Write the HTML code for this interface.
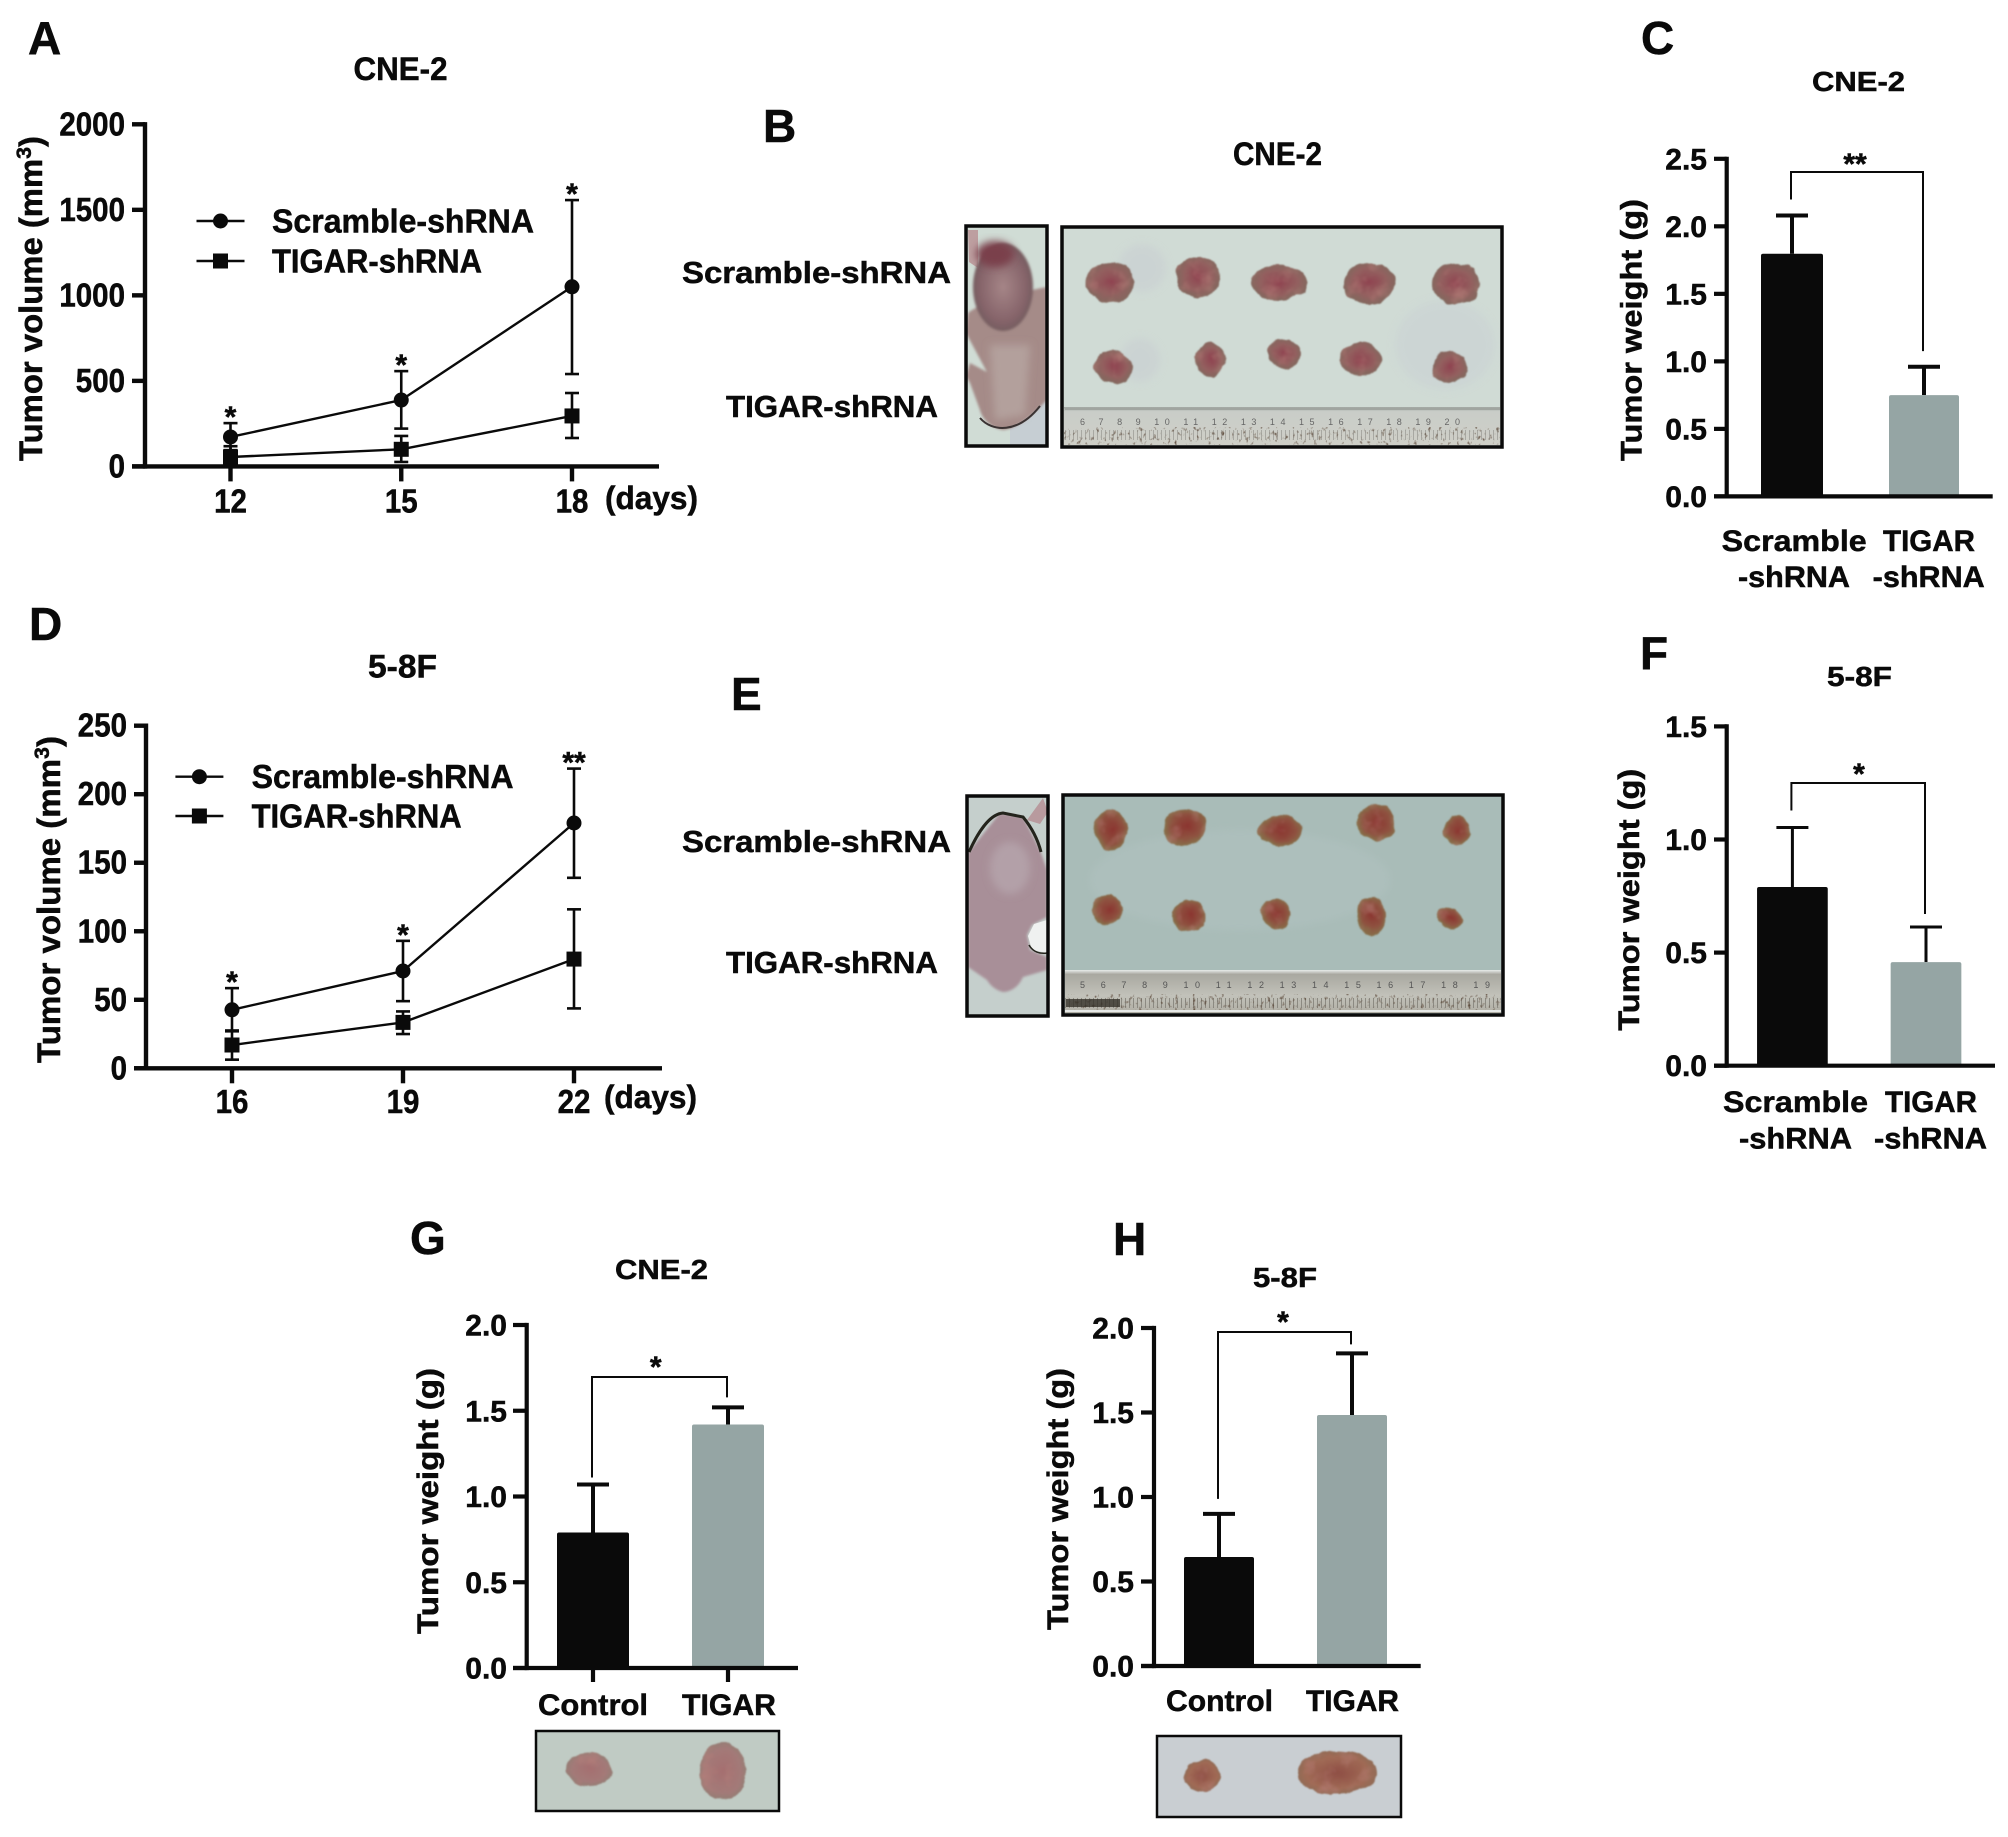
<!DOCTYPE html>
<html lang="en">
<head>
<meta charset="utf-8">
<title>Tumor xenograft figure</title>
<style>
html,body{margin:0;padding:0;background:#fff;}
svg{display:block;}
text{font-family:"Liberation Sans",Arial,sans-serif;font-weight:700;fill:#0a0a0a;stroke:#0a0a0a;stroke-width:.5px;}
</style>
</head>
<body>
<svg id="fig" xmlns="http://www.w3.org/2000/svg" width="2008" height="1837" viewBox="0 0 2008 1837">
<defs>
<radialGradient id="tb" cx="50%" cy="48%" r="55%"><stop offset="0%" stop-color="#8f4350"/><stop offset="60%" stop-color="#93605f"/><stop offset="100%" stop-color="#7f6a5e"/></radialGradient>
<radialGradient id="te" cx="52%" cy="48%" r="55%"><stop offset="0%" stop-color="#8b3530"/><stop offset="62%" stop-color="#8e5240"/><stop offset="100%" stop-color="#85764c"/></radialGradient>
<radialGradient id="tg" cx="50%" cy="50%" r="55%"><stop offset="0%" stop-color="#a56f70"/><stop offset="70%" stop-color="#a37a78"/><stop offset="100%" stop-color="#8f7f74"/></radialGradient>
<radialGradient id="th" cx="50%" cy="50%" r="55%"><stop offset="0%" stop-color="#8f4f45"/><stop offset="70%" stop-color="#a06a55"/><stop offset="100%" stop-color="#8a6c56"/></radialGradient>
<radialGradient id="lump" cx="50%" cy="50%" r="55%"><stop offset="0%" stop-color="#a58587"/><stop offset="70%" stop-color="#86646a"/><stop offset="100%" stop-color="#6e5a5c"/></radialGradient>
<linearGradient id="rb" x1="0" y1="0" x2="0" y2="1"><stop offset="0%" stop-color="#9fa5a0"/><stop offset="12%" stop-color="#c9cdc8"/><stop offset="100%" stop-color="#cfcfc7"/></linearGradient>
<linearGradient id="re" x1="0" y1="0" x2="0" y2="1"><stop offset="0%" stop-color="#e8ecea"/><stop offset="10%" stop-color="#a9a8a0"/><stop offset="60%" stop-color="#c2c2ba"/><stop offset="100%" stop-color="#b0aea4"/></linearGradient>
<filter id="soft" x="-20%" y="-20%" width="140%" height="140%"><feGaussianBlur stdDeviation="1.2"/></filter>
<filter id="softer" x="-30%" y="-30%" width="160%" height="160%"><feGaussianBlur stdDeviation="4"/></filter>
<filter id="blob" x="-30%" y="-30%" width="160%" height="160%" color-interpolation-filters="sRGB">
<feTurbulence type="fractalNoise" baseFrequency=".06" numOctaves="3" seed="4" result="n"/>
<feDisplacementMap in="SourceGraphic" in2="n" scale="7" xChannelSelector="R" yChannelSelector="G" result="d"/>
<feColorMatrix in="n" type="matrix" values="0 0 0 0 .72  0 0 0 0 .5  0 0 0 0 .48  1.4 0 0 0 -.7" result="m"/>
<feComposite in="m" in2="d" operator="in" result="mm"/>
<feMerge result="o"><feMergeNode in="d"/><feMergeNode in="mm"/></feMerge>
<feGaussianBlur in="o" stdDeviation=".8"/>
</filter>
<filter id="grime" x="0" y="0" width="100%" height="100%" color-interpolation-filters="sRGB">
<feTurbulence type="fractalNoise" baseFrequency=".28 .22" numOctaves="2" seed="9" result="n"/>
<feColorMatrix in="n" type="matrix" values="0 0 0 0 .34  0 0 0 0 .26  0 0 0 0 .2  3.2 0 0 0 -1.9" result="c"/>
<feComposite in="c" in2="SourceAlpha" operator="in"/>
</filter>
</defs>

<g>
<text x="28" y="54" font-size="46">A</text>
<text x="763" y="142" font-size="46">B</text>
<text x="1641" y="54" font-size="46">C</text>
<text x="29" y="640" font-size="46">D</text>
<text x="731" y="710" font-size="46">E</text>
<text x="1640" y="669" font-size="46">F</text>
<text x="410" y="1254" font-size="46">G</text>
<text x="1113" y="1255" font-size="46">H</text>
</g>

<g>
<text x="353.5" y="80" font-size="32" textLength="94" lengthAdjust="spacingAndGlyphs">CNE-2</text>
<text x="1233" y="165" font-size="32" textLength="89" lengthAdjust="spacingAndGlyphs">CNE-2</text>
<text x="1812" y="91" font-size="28" textLength="93" lengthAdjust="spacingAndGlyphs">CNE-2</text>
<text x="368" y="677.5" font-size="32" textLength="69" lengthAdjust="spacingAndGlyphs">5-8F</text>
<text x="1827" y="686" font-size="28" textLength="65" lengthAdjust="spacingAndGlyphs">5-8F</text>
<text x="615" y="1279" font-size="28" textLength="93" lengthAdjust="spacingAndGlyphs">CNE-2</text>
<text x="1253" y="1287" font-size="28" textLength="64" lengthAdjust="spacingAndGlyphs">5-8F</text>
</g>

<g>
<text x="682" y="283" font-size="31" textLength="269" lengthAdjust="spacingAndGlyphs">Scramble-shRNA</text>
<text x="726" y="417" font-size="31" textLength="212" lengthAdjust="spacingAndGlyphs">TIGAR-shRNA</text>
<g>
<rect x="966" y="226" width="81" height="220" fill="#d0dcd5"/>
<rect x="1010" y="400" width="37" height="46" fill="#c6ced3"/>
<path d="M968,230 L978,230 L978,268 L969,262 Z" fill="#bd9fa0"/>
<path d="M966,333 L968,313 C985,300 1020,292 1047,287 L1047,400 C1035,412 1020,428 1003,430 C990,428 982,418 980,410 L970,383 L966,376 L970,363 L987,372 Z" fill="#a58b88" filter="url(#soft)"/>
<path d="M990,345 L1030,345 L1025,415 L995,420 Z" fill="#b3a09c" filter="url(#softer)"/>
<path d="M980,418 C992,432 1018,434 1040,406" fill="none" stroke="#3a3232" stroke-width="2"/>
<ellipse cx="1003" cy="287" rx="30" ry="44" fill="url(#lump)" filter="url(#soft)"/>
<ellipse cx="995" cy="254" rx="19" ry="13" fill="#7a3f4c" filter="url(#softer)"/>
<rect x="966" y="226" width="81" height="220" fill="none" stroke="#0a0a0a" stroke-width="3.5"/>
</g>
<g>
<rect x="1062" y="227" width="440" height="220" fill="#d0dbd5"/>
<ellipse cx="1142" cy="268" rx="24" ry="24" fill="#c9cfd2" opacity=".6" filter="url(#softer)"/>
<ellipse cx="1140" cy="360" rx="20" ry="22" fill="#c9cfd2" opacity=".6" filter="url(#softer)"/>
<ellipse cx="1445" cy="345" rx="50" ry="45" fill="#c9d0d4" opacity=".5" filter="url(#softer)"/>
<rect x="1064" y="407" width="436" height="38" fill="url(#rb)"/>
<line x1="1065" y1="409" x2="1500" y2="409" stroke="#a0a5a0" stroke-width="2"/>
<line x1="1065" y1="435" x2="1500" y2="435" stroke="#a8a8a2" stroke-width="10" stroke-dasharray="1 3"/>
<rect x="1064" y="427" width="436" height="18" fill="#000" filter="url(#grime)"/>
<text x="1080" y="425" font-size="9" style="fill:#666;font-weight:400;stroke:none" textLength="380">6 7 8 9 10 11 12 13 14 15 16 17 18 19 20</text>
<ellipse cx="1110" cy="283" rx="24" ry="20" fill="url(#tb)" filter="url(#blob)"/>
<ellipse cx="1198" cy="277" rx="22" ry="21" fill="url(#tb)" filter="url(#blob)"/>
<ellipse cx="1279" cy="283" rx="28" ry="18" fill="url(#tb)" filter="url(#blob)"/>
<ellipse cx="1369" cy="283" rx="26" ry="21" fill="url(#tb)" filter="url(#blob)"/>
<ellipse cx="1456" cy="284" rx="24" ry="21" fill="url(#tb)" filter="url(#blob)"/>
<ellipse cx="1114" cy="367" rx="19" ry="17" fill="url(#tb)" filter="url(#blob)"/>
<ellipse cx="1211" cy="360" rx="15" ry="17" fill="url(#tb)" filter="url(#blob)"/>
<ellipse cx="1284" cy="354" rx="17" ry="15" fill="url(#tb)" filter="url(#blob)"/>
<ellipse cx="1361" cy="360" rx="21" ry="17" fill="url(#tb)" filter="url(#blob)"/>
<ellipse cx="1450" cy="367" rx="17" ry="16" fill="url(#tb)" filter="url(#blob)"/>
<rect x="1062" y="227" width="440" height="220" fill="none" stroke="#0a0a0a" stroke-width="3.5"/>
</g>
</g>

<g>
<text x="682" y="852" font-size="31" textLength="269" lengthAdjust="spacingAndGlyphs">Scramble-shRNA</text>
<text x="726" y="973" font-size="31" textLength="212" lengthAdjust="spacingAndGlyphs">TIGAR-shRNA</text>
<g>
<rect x="967" y="796" width="81" height="220" fill="#c5cfcc"/>
<path d="M1043,798 L1027,820 L1040,824 L1048,812 Z" fill="#b89a9e"/>
<path d="M968,853 L1000,813 L1023,817 L1040,850 L1047,870 L1047,917 L1032,925 L1027,935 L1030,950 L1047,957 L1047,970 L1023,977 C1018,988 1010,992 1003,992 C995,990 990,985 987,980 L968,967 Z" fill="#a88f98" filter="url(#soft)"/>
<ellipse cx="1010" cy="868" rx="20" ry="26" fill="#b3a0a8" filter="url(#softer)"/>
<path d="M969,852 C978,832 990,814 1003,813 L1023,817 C1032,828 1038,840 1041,852" fill="none" stroke="#24241c" stroke-width="3"/>
<path d="M1034,924 L1047,920 L1047,953 L1032,950 L1028,936 Z" fill="#eff1f0"/>
<path d="M1029,945 C1033,952 1040,954 1047,953" fill="none" stroke="#24241c" stroke-width="1.6"/>
<rect x="967" y="796" width="81" height="220" fill="none" stroke="#0a0a0a" stroke-width="3.5"/>
</g>
<g>
<rect x="1063" y="795" width="440" height="220" fill="#a9bcb8"/>
<ellipse cx="1240" cy="880" rx="150" ry="50" fill="#b4c4c3" opacity=".4" filter="url(#softer)"/>
<rect x="1065" y="970" width="436" height="43" fill="url(#re)"/>
<line x1="1065" y1="1003" x2="1501" y2="1003" stroke="#8c8a82" stroke-width="10" stroke-dasharray="1 3"/>
<rect x="1065" y="994" width="436" height="16" fill="#000" filter="url(#grime)"/>
<rect x="1066" y="999" width="54" height="8" fill="#2e2a22" opacity=".75"/>
<line x1="1065" y1="1011" x2="1501" y2="1011" stroke="#e6e8e6" stroke-width="2"/>
<text x="1080" y="988" font-size="9" style="fill:#555;font-weight:400;stroke:none" textLength="410">5 6 7 8 9 10 11 12 13 14 15 16 17 18 19</text>
<ellipse cx="1111" cy="830" rx="17" ry="20" fill="url(#te)" filter="url(#blob)"/>
<ellipse cx="1185" cy="827" rx="22" ry="19" fill="url(#te)" filter="url(#blob)"/>
<ellipse cx="1280" cy="831" rx="22" ry="16" fill="url(#te)" filter="url(#blob)"/>
<ellipse cx="1376" cy="823" rx="19" ry="19" fill="url(#te)" filter="url(#blob)"/>
<ellipse cx="1457" cy="831" rx="13" ry="15" fill="url(#te)" filter="url(#blob)"/>
<ellipse cx="1108" cy="910" rx="15" ry="15" fill="url(#te)" filter="url(#blob)"/>
<ellipse cx="1189" cy="916" rx="17" ry="16" fill="url(#te)" filter="url(#blob)"/>
<ellipse cx="1276" cy="914" rx="14" ry="16" fill="url(#te)" filter="url(#blob)"/>
<ellipse cx="1371" cy="916" rx="15" ry="19" fill="url(#te)" filter="url(#blob)"/>
<ellipse cx="1450" cy="918" rx="12" ry="11" fill="url(#te)" filter="url(#blob)"/>
<rect x="1063" y="795" width="440" height="220" fill="none" stroke="#0a0a0a" stroke-width="3.5"/>
</g>
</g>

<g>
<rect x="536" y="1731" width="243" height="80" fill="#c0cbc4"/>
<ellipse cx="589" cy="1769" rx="23" ry="17" fill="url(#tg)" filter="url(#blob)"/>
<ellipse cx="723" cy="1771" rx="23" ry="29" fill="url(#tg)" filter="url(#blob)"/>
<rect x="536" y="1731" width="243" height="80" fill="none" stroke="#0a0a0a" stroke-width="2.5"/>
</g>
<g>
<rect x="1157" y="1736" width="244" height="81" fill="#c9ced2"/>
<ellipse cx="1202" cy="1776" rx="18" ry="16" fill="url(#th)" filter="url(#blob)"/>
<ellipse cx="1337" cy="1773" rx="40" ry="22" fill="url(#th)" filter="url(#blob)"/>
<rect x="1157" y="1736" width="244" height="81" fill="none" stroke="#0a0a0a" stroke-width="2.5"/>
</g>

<g id="charts"></g>
</svg>

<script>
// ---- Panel A data
const aDays = ['12', '15', '18'];
const aTicks = ['0', '500', '1000', '1500', '2000'];
const aScramble = [172, 388, 1050];
const aScrambleUpper = [253, 557, 1557];
const aScrambleLower = [95, 221, 540];
const aTigar = [55, 100, 295];
const aTigarUpper = [118, 178, 429];
const aTigarLower = [10, 26, 166];
const aStars = ['*', '*', '*'];

// ---- Panel D data
const dDays = ['16', '19', '22'];
const dTicks = ['0', '50', '100', '150', '200', '250'];
const dScramble = [42.7, 71, 179];
const dScrambleUpper = [58.5, 93, 218.7];
const dScrambleLower = [27.6, 49, 139];
const dTigar = [17, 33.5, 79.7];
const dTigarUpper = [27, 41.5, 116];
const dTigarLower = [6.3, 25, 43.7];
const dStars = ['*', '*', '**'];

// ---- Bar panel data
const cTicks = ['0.0', '0.5', '1.0', '1.5', '2.0', '2.5'];
const cMeans = [1.797, 0.75];
const cErrorTops = [2.08, 0.96];
const cLine1 = ['Scramble', 'TIGAR'];
const cLine2 = ['-shRNA', '-shRNA'];

const fTicks = ['0.0', '0.5', '1.0', '1.5'];
const fMeans = [0.79, 0.458];
const fErrorTops = [1.053, 0.613];
const fLine1 = ['Scramble', 'TIGAR'];
const fLine2 = ['-shRNA', '-shRNA'];

const gTicks = ['0.0', '0.5', '1.0', '1.5', '2.0'];
const gMeans = [0.79, 1.42];
const gErrorTops = [1.07, 1.52];
const gLine1 = ['Control', 'TIGAR'];

const hTicks = ['0.0', '0.5', '1.0', '1.5', '2.0'];
const hMeans = [0.645, 1.485];
const hErrorTops = [0.9, 1.85];
const hLine1 = ['Control', 'TIGAR'];

const NS = 'http://www.w3.org/2000/svg';
const root = document.getElementById('charts');

function mk(tag, attrs, parent, name) {
  const el = document.createElementNS(NS, tag);
  for (const k in attrs) el.setAttribute(k, attrs[k]);
  
  
  parent.appendChild(el);
  return el;
}
function line(p, x1, y1, x2, y2, w, name) {
  return mk('line', {x1: x1, y1: y1, x2: x2, y2: y2, stroke: '#0a0a0a', 'stroke-width': w}, p, name);
}
function label(p, x, y, str, size, anchor, len, name) {
  const a = {x: x, y: y, 'font-size': size};
  if (anchor) a['text-anchor'] = anchor;
  if (len) { a.textLength = len; a.lengthAdjust = 'spacingAndGlyphs'; }
  const el = mk('text', a, p, name);
  el.textContent = str;
  return el;
}
function linearY(lay) {
  return function (v) { return lay.yBase - (v / lay.yMax) * (lay.yBase - lay.yTop); };
}
function axes(g, lay, ticks, yOf, axisW) {
  line(g, lay.axisX, lay.yTop - axisW / 2, lay.axisX, lay.yBase + axisW / 2, axisW, 'y-axis');
  line(g, lay.tickLeft, lay.yBase, lay.axisRight, lay.yBase, axisW, 'x-axis');
  ticks.forEach(function (t) {
    const y = yOf(parseFloat(t));
    line(g, lay.tickLeft, y, lay.axisX, y, axisW, 'y-tick');
    if (lay.digitW) {
      label(g, lay.tickLabelRight, y + 11, t, 33, 'end', t.length * lay.digitW, 'y-tick-label');
    } else {
      label(g, lay.tickLabelRight, y + 10.5, t, 30, 'end', null, 'y-tick-label');
    }
  });
}
function yTitle(g, x, yStart, len, size, main, sup, tail) {
  const el = mk('text', {x: x, y: yStart, 'font-size': size, textLength: len, lengthAdjust: 'spacingAndGlyphs',
    transform: 'rotate(-90 ' + x + ' ' + yStart + ')'}, g, 'y-axis-title');
  el.appendChild(document.createTextNode(main));
  if (sup) {
    const s = mk('tspan', {dy: -11, 'font-size': size * 0.65}, el, 'y-axis-title-superscript');
    s.textContent = sup;
    const r = mk('tspan', {dy: 11}, el, 'y-axis-title-tail');
    r.textContent = tail;
  }
}

function errorBars(g, xOf, yOf, upper, lower, lw, cap, name) {
  upper.forEach(function (u, i) {
    const x = xOf(i);
    line(g, x, yOf(u), x, yOf(lower[i]), lw, name + '-error-stem');
    line(g, x - cap, yOf(u), x + cap, yOf(u), lw, name + '-error-cap-upper');
    line(g, x - cap, yOf(lower[i]), x + cap, yOf(lower[i]), lw, name + '-error-cap-lower');
  });
}
function seriesLine(g, xOf, yOf, vals, name) {
  const pts = vals.map(function (v, i) { return xOf(i) + ',' + yOf(v); }).join(' ');
  mk('polyline', {points: pts, fill: 'none', stroke: '#0a0a0a', 'stroke-width': 2.4}, g, name + '-line');
}
function circle(g, x, y, name) { mk('circle', {cx: x, cy: y, r: 7.5, fill: '#0a0a0a'}, g, name); }
function square(g, x, y, name) { mk('rect', {x: x - 7.5, y: y - 7.5, width: 15, height: 15, fill: '#0a0a0a'}, g, name); }

function linePanel(id, lay, days, ticks, s1, s1u, s1l, s2, s2u, s2l, stars) {
  const g = mk('g', {}, root, 'panel-' + id + '-line-chart');
  const xOf = function (i) { return lay.x0 + i * lay.dx; };
  const yOf = linearY(lay);
  axes(g, lay, ticks, yOf, 4.4);
  days.forEach(function (d, i) {
    line(g, xOf(i), lay.yBase, xOf(i), lay.yBase + 15, 4.4, 'x-tick');
    label(g, xOf(i), lay.xLabelY, d, 33, 'middle', d.length * lay.digitW, 'x-tick-label');
  });
  label(g, lay.daysX, lay.daysY, '(days)', 32, null, 93, 'x-axis-unit');
  errorBars(g, xOf, yOf, s2u, s2l, 2.6, 7, 'tigar');
  errorBars(g, xOf, yOf, s1u, s1l, 2.6, 7, 'scramble');
  seriesLine(g, xOf, yOf, s1, 'scramble');
  seriesLine(g, xOf, yOf, s2, 'tigar');
  s1.forEach(function (v, i) { circle(g, xOf(i), yOf(v), 'scramble-point'); });
  s2.forEach(function (v, i) { square(g, xOf(i), yOf(v), 'tigar-point'); });
  stars.forEach(function (s, i) {
    label(g, xOf(i), yOf(s1u[i]) + 4, s, 30, 'middle', null, 'significance-star');
  });
  // legend
  const lg = mk('g', {}, g, 'legend');
  line(lg, lay.legX, lay.legY1, lay.legX + 48, lay.legY1, 2.4, 'legend-scramble-line');
  circle(lg, lay.legX + 24, lay.legY1, 'legend-scramble-marker');
  label(lg, lay.legText, lay.legY1 + 11.5, 'Scramble-shRNA', 33, null, 262, 'legend-scramble-label');
  line(lg, lay.legX, lay.legY2, lay.legX + 48, lay.legY2, 2.4, 'legend-tigar-line');
  square(lg, lay.legX + 24, lay.legY2, 'legend-tigar-marker');
  label(lg, lay.legText, lay.legY2 + 11.5, 'TIGAR-shRNA', 33, null, 210, 'legend-tigar-label');
  yTitle(g, lay.titleX, lay.titleY, lay.titleLen, 32, 'Tumor volume (mm', '3', ')');
}

function barPanel(id, lay, ticks, means, tops, l1, l2) {
  const g = mk('g', {}, root, 'panel-' + id + '-bar-chart');
  const xOf = function (i) { return lay.centers[0] + i * (lay.centers[1] - lay.centers[0]); };
  const yOf = linearY(lay);
  means.forEach(function (m, i) {
    const x = xOf(i);
    const w = lay.widths[i];
    line(g, x, yOf(tops[i]), x, yOf(m), lay.errW, 'bar-' + id + '-error-stem');
    line(g, x - 16, yOf(tops[i]), x + 16, yOf(tops[i]), lay.errW, 'bar-' + id + '-error-cap');
    mk('rect', {x: x - w / 2, y: yOf(m), width: w, height: lay.yBase - yOf(m), rx: 2,
      fill: i === 0 ? '#0a0a0a' : '#95a5a4'}, g, 'bar-' + id + '-' + (i + 1));
  });
  axes(g, lay, ticks, yOf, 4.2);
  if (lay.xTicks) {
    means.forEach(function (m, i) {
      line(g, xOf(i), lay.yBase, xOf(i), lay.yBase + 14, 4.2, 'x-tick');
    });
  }
  l1.forEach(function (t, i) {
    label(g, lay.l1X[i], lay.l1Y, t, 30, null, lay.l1Len[i], 'x-category-label');
  });
  if (l2) {
    l2.forEach(function (t, i) {
      label(g, lay.l2X[i], lay.l2Y, t, 30, null, lay.l2Len[i], 'x-category-label-line-2');
    });
  }
  // significance bracket
  const bl = xOf(0) - 1;
  const br = xOf(1) - 1;
  const bracket = 'M' + bl + ',' + (yOf(tops[0]) - lay.gapL) + ' L' + bl + ',' + lay.bracketY +
    ' L' + br + ',' + lay.bracketY + ' L' + br + ',' + (yOf(tops[1]) - lay.gapR);
  mk('path', {d: bracket, fill: 'none', stroke: '#0a0a0a', 'stroke-width': 2}, g, 'significance-bracket');
  label(g, lay.starX, lay.starY + 17, lay.star, 30, 'middle', null, 'significance-star');
  yTitle(g, lay.titleX, lay.titleY, lay.titleLen, 30, 'Tumor weight (g)');
}

linePanel('a', {x0: 230.5, dx: 170.75, yBase: 466.4, yTop: 124.3, yMax: 2000, axisX: 145, axisRight: 659, tickLeft: 132, digitW: 16.4,
  tickLabelRight: 125, xLabelY: 512.5, daysX: 605, daysY: 509, legX: 196.5, legY1: 221, legY2: 261, legText: 272,
  titleX: 42, titleY: 461, titleLen: 325},
  aDays, aTicks, aScramble, aScrambleUpper, aScrambleLower, aTigar, aTigarUpper, aTigarLower, aStars);

linePanel('d', {x0: 232, dx: 171, yBase: 1068.3, yTop: 725.7, yMax: 250, axisX: 146, axisRight: 662, tickLeft: 134, digitW: 16.4,
  tickLabelRight: 127, xLabelY: 1113, daysX: 604, daysY: 1108, legX: 175.4, legY1: 776.7, legY2: 816, legText: 251.6,
  titleX: 60, titleY: 1063, titleLen: 327},
  dDays, dTicks, dScramble, dScrambleUpper, dScrambleLower, dTigar, dTigarUpper, dTigarLower, dStars);

barPanel('c', {yBase: 496.4, yTop: 158.8, yMax: 2.5, axisX: 1726.7, axisRight: 1992.7, tickLeft: 1714, tickLabelRight: 1707,
  centers: [1792, 1924], widths: [62, 70], errW: 4, xTicks: false,
  l1X: [1721.7, 1883], l1Y: 551, l1Len: [145, 92], l2X: [1738, 1872.7], l2Y: 587, l2Len: [112, 112],
  bracketY: 172, gapL: 16, gapR: 15.6, star: '**', starX: 1855, starY: 157, titleX: 1641.7, titleY: 461, titleLen: 262},
  cTicks, cMeans, cErrorTops, cLine1, cLine2);

barPanel('f', {yBase: 1065.7, yTop: 726.4, yMax: 1.5, axisX: 1726.7, axisRight: 1995, tickLeft: 1714, tickLabelRight: 1707,
  centers: [1792.4, 1926], widths: [70.7, 70.7], errW: 3, xTicks: false,
  l1X: [1723, 1885], l1Y: 1112, l1Len: [145, 92], l2X: [1739, 1874], l2Y: 1148.6, l2Len: [113, 113],
  bracketY: 783, gapL: 17, gapR: 13, star: '*', starX: 1859, starY: 767, titleX: 1639, titleY: 1030.7, titleLen: 262},
  fTicks, fMeans, fErrorTops, fLine1, fLine2);

barPanel('g', {yBase: 1668, yTop: 1325, yMax: 2, axisX: 526.7, axisRight: 798, tickLeft: 513, tickLabelRight: 507,
  centers: [593, 728], widths: [72, 72], errW: 4, xTicks: true,
  l1X: [538, 682], l1Y: 1715, l1Len: [110, 94],
  bracketY: 1377, gapL: 7, gapR: 10, star: '*', starX: 655.7, starY: 1360, titleX: 438, titleY: 1634, titleLen: 266},
  gTicks, gMeans, gErrorTops, gLine1, null);

barPanel('h', {yBase: 1666, yTop: 1328, yMax: 2, axisX: 1154, axisRight: 1420.7, tickLeft: 1141, tickLabelRight: 1134,
  centers: [1219, 1352], widths: [70, 70], errW: 4, xTicks: false,
  l1X: [1166, 1306], l1Y: 1711, l1Len: [107, 93],
  bracketY: 1332, gapL: 15, gapR: 9, star: '*', starX: 1283, starY: 1315, titleX: 1068, titleY: 1630, titleLen: 262},
  hTicks, hMeans, hErrorTops, hLine1, null);
</script>
</body>
</html>
